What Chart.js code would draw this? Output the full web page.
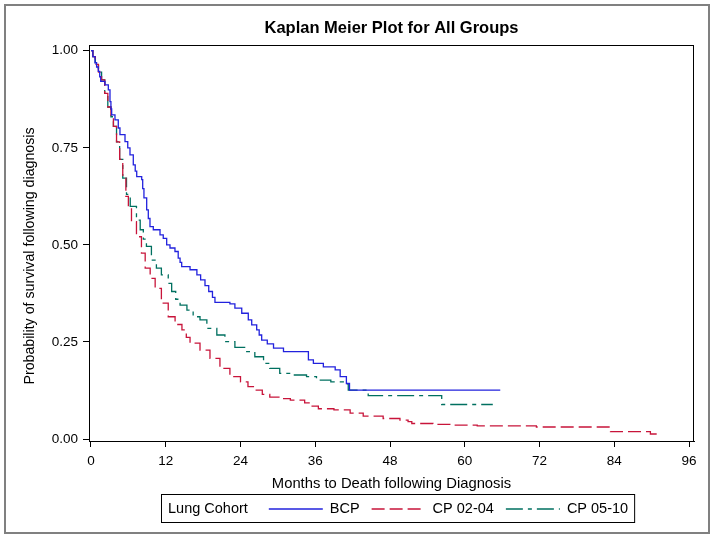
<!DOCTYPE html>
<html>
<head>
<meta charset="utf-8">
<script src="https://cdn.jsdelivr.net/npm/chart.js@4"></script>
<style>
  html, body { margin: 0; padding: 0; background: #fff; }
  #wrap { width: 714px; height: 538px; }
</style>
</head>
<body>
<div id="wrap"><canvas id="kmChart" width="714" height="538"></canvas></div>
<script>
// Kaplan-Meier step data (months, survival after the step)
const seriesNames = ['BCP', 'CP 02-04', 'CP 05-10'];

const bcpMonths = [0, 0.3, 0.64, 0.9, 1.17, 1.4, 1.56, 2.25, 2.78, 3.05, 3.2, 3.32, 3.85, 4.38, 4.65, 5.46, 5.9, 6.26, 6.79, 7.1, 7.34, 8.14, 8.3, 8.5, 8.94, 9.2, 9.47, 10.0, 11.08, 11.6, 12.15, 12.68, 13.48, 14.0, 14.3, 14.56, 15.9, 17.0, 17.6, 18.3, 18.9, 19.5, 19.9, 22.3, 23.1, 24.2, 25.25, 25.8, 26.6, 27.0, 27.4, 28.3, 29.3, 30.9, 34.9, 35.7, 37.3, 39.2, 40.0, 41.0, 41.5, 65.7];
const bcpSurv   = [1, 0.985, 0.969, 0.958, 0.947, 0.933, 0.921, 0.912, 0.899, 0.869, 0.85, 0.835, 0.822, 0.801, 0.784, 0.766, 0.75, 0.732, 0.706, 0.69, 0.676, 0.668, 0.645, 0.621, 0.59, 0.568, 0.547, 0.539, 0.526, 0.517, 0.5, 0.492, 0.483, 0.466, 0.455, 0.444, 0.436, 0.423, 0.41, 0.395, 0.38, 0.365, 0.352, 0.348, 0.337, 0.324, 0.307, 0.294, 0.281, 0.268, 0.255, 0.245, 0.234, 0.225, 0.204, 0.195, 0.186, 0.178, 0.161, 0.143, 0.126, 0.126];

const cp0204Months = [0, 0.3, 0.7, 1.2, 1.7, 2.2, 2.7, 3.2, 3.6, 4.1, 4.6, 5.1, 5.6, 6.0, 6.5, 7.3, 8.1, 8.7, 9.5, 10.3, 11.3, 12.4, 13.5, 14.6, 15.3, 15.9, 17.5, 19.1, 20.7, 22.3, 24.0, 25.2, 26.3, 27.5, 28.7, 30.5, 32.0, 34.3, 35.5, 36.5, 39.0, 41.6, 43.7, 46.9, 49.6, 50.9, 51.5, 54.9, 57.6, 62.0, 71.5, 83.4, 89.8, 91.5];
const cp0204Surv   = [1, 0.985, 0.965, 0.945, 0.925, 0.89, 0.855, 0.83, 0.805, 0.765, 0.72, 0.672, 0.625, 0.599, 0.56, 0.521, 0.479, 0.44, 0.414, 0.388, 0.35, 0.315, 0.295, 0.281, 0.262, 0.247, 0.229, 0.208, 0.182, 0.161, 0.147, 0.135, 0.126, 0.115, 0.108, 0.104, 0.1, 0.093, 0.085, 0.078, 0.075, 0.067, 0.059, 0.053, 0.049, 0.045, 0.04, 0.038, 0.036, 0.034, 0.031, 0.019, 0.013, 0.013];

const cp0510Months = [0, 0.3, 0.7, 1.2, 1.7, 2.2, 2.7, 3.2, 3.6, 4.1, 4.6, 5.1, 5.7, 6.3, 7.3, 7.9, 8.4, 8.9, 9.7, 10.5, 11.3, 12.4, 12.95, 13.6, 14.3, 15.4, 16.4, 17.5, 18.6, 20.2, 21.5, 23.1, 25.0, 26.3, 27.7, 28.7, 30.3, 32.5, 34.6, 36.2, 38.5, 40.5, 41.3, 44.5, 56.3, 64.5];
const cp0510Surv   = [1, 0.985, 0.965, 0.945, 0.925, 0.89, 0.855, 0.83, 0.805, 0.765, 0.72, 0.672, 0.63, 0.599, 0.564, 0.539, 0.515, 0.496, 0.461, 0.44, 0.423, 0.401, 0.38, 0.36, 0.345, 0.332, 0.315, 0.307, 0.285, 0.268, 0.251, 0.236, 0.225, 0.212, 0.195, 0.182, 0.169, 0.165, 0.161, 0.152, 0.147, 0.142, 0.126, 0.112, 0.089, 0.089];

const xTickValues = [0, 12, 24, 36, 48, 60, 72, 84, 96];
const yTickValues = [0, 0.25, 0.5, 0.75, 1];

const chartTitle = 'Kaplan Meier Plot for All Groups';
const xTitle = 'Months to Death following Diagnosis';
const yTitle = 'Probability of survival following diagnosis';
const legendTitle = 'Lung Cohort';

const lineColors = ['#2222dd', '#c8143a', '#007060'];
const lineDashes = [[], [13, 5], [17, 5, 4, 5]];

const fontFamily = 'Arial, "Liberation Sans", sans-serif';
Chart.defaults.font.family = fontFamily;
Chart.defaults.color = '#000';

function toPoints(xs, ys) {
  return xs.map((x, i) => ({ x: x, y: ys[i] }));
}

const allSeries = [
  toPoints(bcpMonths, bcpSurv),
  toPoints(cp0204Months, cp0204Surv),
  toPoints(cp0510Months, cp0510Surv)
];

// frame, titles, outer border and the boxed legend
const decorPlugin = {
  id: 'decor',
  afterDraw(chart) {
    const ctx = chart.ctx;
    const area = chart.chartArea;
    ctx.save();

    // outer border
    ctx.strokeStyle = '#808080';
    ctx.lineWidth = 2;
    ctx.strokeRect(5, 5, 704, 528);

    // plot frame
    ctx.strokeStyle = '#000';
    ctx.lineWidth = 1;
    ctx.strokeRect(area.left + 0.5, area.top + 0.5, area.right - area.left - 1, area.bottom - area.top);

    // title
    ctx.fillStyle = '#000';
    ctx.font = 'bold 16.5px ' + fontFamily;
    ctx.textAlign = 'center';
    ctx.textBaseline = 'middle';
    ctx.fillText(chartTitle, (area.left + area.right) / 2, 28);

    // y axis title (sits a little below the axis centre in the original)
    ctx.save();
    ctx.font = '14.2px ' + fontFamily;
    ctx.translate(30, 256);
    ctx.rotate(-Math.PI / 2);
    ctx.fillText(yTitle, 0, 0);
    ctx.restore();

    // legend
    ctx.font = '14.5px ' + fontFamily;
    ctx.textAlign = 'left';
    const boxLeft = 161, boxTop = 494, boxH = 28;
    const midY = boxTop + boxH / 2 + 1;
    let x = boxLeft + 7;
    ctx.fillText(legendTitle, x, midY);
    x += ctx.measureText(legendTitle).width + 21;
    chart.data.datasets.forEach((ds, i) => {
      ctx.save();
      ctx.strokeStyle = ds.borderColor;
      ctx.lineWidth = ds.borderWidth;
      ctx.setLineDash(ds.borderDash || []);
      ctx.beginPath();
      ctx.moveTo(x, midY);
      ctx.lineTo(x + 54, midY);
      ctx.stroke();
      ctx.restore();
      x += 61;
      ctx.fillText(ds.label, x, midY);
      x += ctx.measureText(ds.label).width + 12;
    });
    ctx.strokeStyle = '#000';
    ctx.lineWidth = 1;
    ctx.strokeRect(boxLeft + 0.5, boxTop + 0.5, x - 6 - boxLeft, boxH);
    ctx.restore();
  }
};

const chartCtx = document.getElementById('kmChart').getContext('2d');
const kmChart = new Chart(chartCtx, {
  type: 'line',
  data: {
    datasets: seriesNames.map((name, i) => ({
      label: name,
      data: allSeries[i],
      borderColor: lineColors[i],
      borderDash: lineDashes[i],
      borderWidth: 1.3,
      stepped: true,
      pointRadius: 0,
      fill: false
    }))
  },
  options: {
    responsive: false,
    animation: false,
    devicePixelRatio: 1,
    layout: { padding: { left: 0, top: 45, right: 20, bottom: 40 } },
    plugins: {
      legend: { display: false },
      title: { display: false },
      tooltip: { enabled: false }
    },
    scales: {
      x: {
        type: 'linear',
        min: -0.32,
        max: 96.8,
        afterBuildTicks: s => { s.ticks = xTickValues.map(v => ({ value: v })); },
        afterFit: s => { s.height = 57; },
        grid: { drawOnChartArea: false, tickLength: 6, color: '#000' },
        border: { color: '#000' },
        ticks: { font: { size: 13.5 }, padding: 6, maxRotation: 0, callback: v => String(v) },
        title: { display: true, text: xTitle, font: { size: 14.8 }, padding: { top: 0, bottom: 5.4 } }
      },
      y: {
        type: 'linear',
        min: -0.005,
        max: 1.0147,
        afterBuildTicks: s => { s.ticks = yTickValues.map(v => ({ value: v })); },
        afterFit: s => { s.width = 89; },
        grid: { drawOnChartArea: false, tickLength: 6, color: '#000' },
        border: { color: '#000' },
        ticks: { font: { size: 13.5 }, padding: 5, callback: v => v.toFixed(2) },
        title: { display: false }
      }
    }
  },
  plugins: [decorPlugin]
});
</script>
</body>
</html>
